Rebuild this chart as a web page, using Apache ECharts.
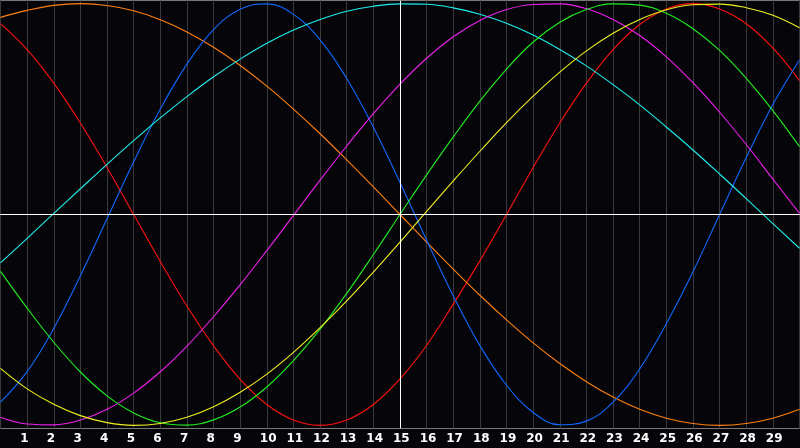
<!DOCTYPE html>
<html style="height: 100%">
<head>
  <meta charset="utf-8">
</head>
<body style="height: 100%; margin: 0; background: #06060a">
  <div id="container" style="width: 800px; height: 448px"></div>

  <script type="text/javascript" src="https://fastly.jsdelivr.net/npm/echarts@6.0.0/dist/echarts.min.js"></script>
  <script type="text/javascript">
    // x positions of the samples (0 .. 30)
    var xValues = [0, 1, 2, 3, 4, 5, 6, 7, 8, 9, 10, 11, 12, 13, 14, 15,
      16, 17, 18, 19, 20, 21, 22, 23, 24, 25, 26, 27, 28, 29, 30];
    // labels shown under the axis
    var tickLabels = [1, 2, 3, 4, 5, 6, 7, 8, 9, 10, 11, 12, 13, 14, 15,
      16, 17, 18, 19, 20, 21, 22, 23, 24, 25, 26, 27, 28, 29];

    var red = [0.905, 0.782, 0.623, 0.434, 0.223, 0, -0.223, -0.434, -0.623, -0.782, -0.901,
      -0.975, -1, -0.975, -0.901, -0.78, -0.62, -0.425, -0.22, 0, 0.223,
      0.434, 0.623, 0.782, 0.901, 0.975, 1, 0.975, 0.905, 0.79, 0.635];
    var orange = [0.935, 0.968, 0.992, 1, 0.991, 0.966, 0.924, 0.866, 0.793, 0.707, 0.609,
      0.5, 0.383, 0.259, 0.131, 0, -0.131, -0.259, -0.383, -0.5, -0.609,
      -0.707, -0.793, -0.866, -0.924, -0.966, -0.991, -1, -0.991, -0.966, -0.924];
    var blue = [-0.89, -0.745, -0.54, -0.29, -0.02, 0.25, 0.5, 0.713, 0.877, 0.974, 0.999,
      0.949, 0.828, 0.645, 0.414, 0.152, -0.122, -0.386, -0.622, -0.81, -0.939,
      -0.997, -0.98, -0.89, -0.732, -0.518, -0.272, 0, 0.27, 0.522, 0.733];
    var cyan = [-0.229, -0.113, 0.005, 0.122, 0.238, 0.35, 0.458, 0.559, 0.653, 0.737, 0.812,
      0.875, 0.925, 0.964, 0.988, 0.999, 0.997, 0.98, 0.95, 0.907, 0.851,
      0.783, 0.705, 0.616, 0.52, 0.415, 0.306, 0.192, 0.075, -0.043, -0.16];
    var magenta = [-0.962, -0.994, -0.998, -0.975, -0.924, -0.847, -0.746, -0.624, -0.485, -0.333, -0.171,
      -0.004, 0.163, 0.325, 0.478, 0.618, 0.741, 0.843, 0.92, 0.972, 0.996,
      0.999, 0.976, 0.925, 0.849, 0.748, 0.625, 0.485, 0.332, 0.168, 0.005];
    var green = [-0.27, -0.444, -0.606, -0.747, -0.86, -0.941, -0.988, -0.999, -0.974, -0.913, -0.818,
      -0.693, -0.544, -0.374, -0.19, 0, 0.188, 0.368, 0.538, 0.69, 0.818,
      0.912, 0.972, 0.999, 0.993, 0.954, 0.881, 0.778, 0.646, 0.493, 0.322];
    var yellow = [-0.73, -0.827, -0.9, -0.954, -0.987, -1, -0.991, -0.962, -0.912, -0.843, -0.757,
      -0.654, -0.537, -0.41, -0.273, -0.131, 0.015, 0.159, 0.3, 0.436, 0.561,
      0.675, 0.776, 0.86, 0.925, 0.971, 0.995, 0.998, 0.981, 0.945, 0.886];

    var curves = [
      { name: 'red', color: '#ff1010', values: red },
      { name: 'orange', color: '#ff8010', values: orange },
      { name: 'blue', color: '#1068ff', values: blue },
      { name: 'cyan', color: '#20eeee', values: cyan },
      { name: 'magenta', color: '#f020f0', values: magenta },
      { name: 'green', color: '#20f020', values: green },
      { name: 'yellow', color: '#f0f020', values: yellow }
    ];

    function pairs(ys) {
      return xValues.map(function (x, i) { return [x, ys[i]]; });
    }

    var dom = document.getElementById('container');
    var myChart = echarts.init(dom, null, { renderer: 'canvas' });

    var series = curves.map(function (c) {
      return {
        name: c.name,
        type: 'line',
        smooth: 0.4,
        showSymbol: false,
        silent: true,
        lineStyle: { color: c.color, width: 1.1 },
        data: pairs(c.values)
      };
    });

    // white cross through the centre of the plot
    series.push({
      type: 'line',
      data: [],
      silent: true,
      markLine: {
        symbol: 'none',
        silent: true,
        animation: false,
        label: { show: false },
        lineStyle: { color: '#ffffff', width: 1, type: 'solid' },
        data: [{ xAxis: 15 }, { yAxis: 0 }]
      }
    });

    var option = {
      backgroundColor: '#06060a',
      animation: false,
      grid: {
        left: 0.5,
        right: 0.5,
        top: 0.5,
        bottom: 19.5,
        show: true,
        borderColor: '#7a7a7a',
        borderWidth: 1
      },
      xAxis: {
        type: 'value',
        min: 0,
        max: 30,
        interval: 1,
        axisLine: { lineStyle: { color: '#a8a8a8', width: 1 } },
        axisTick: { show: false },
        splitLine: { show: true, lineStyle: { color: '#3a3a3a', width: 1 } },
        axisLabel: {
          margin: 4,
          showMinLabel: false,
          showMaxLabel: false,
          formatter: function (v) {
            return tickLabels.indexOf(v) >= 0 ? '{a|' + v + '}' : '';
          },
          rich: {
            a: {
              width: 14,
              align: 'left',
              color: '#ffffff',
              fontFamily: 'DejaVu Sans',
              fontWeight: 'bold',
              fontSize: 12
            }
          }
        }
      },
      yAxis: {
        type: 'value',
        min: -1.015,
        max: 1.015,
        show: false,
        splitLine: { show: false }
      },
      series: series
    };

    myChart.setOption(option);
    window.addEventListener('resize', myChart.resize);
  </script>
</body>
</html>
